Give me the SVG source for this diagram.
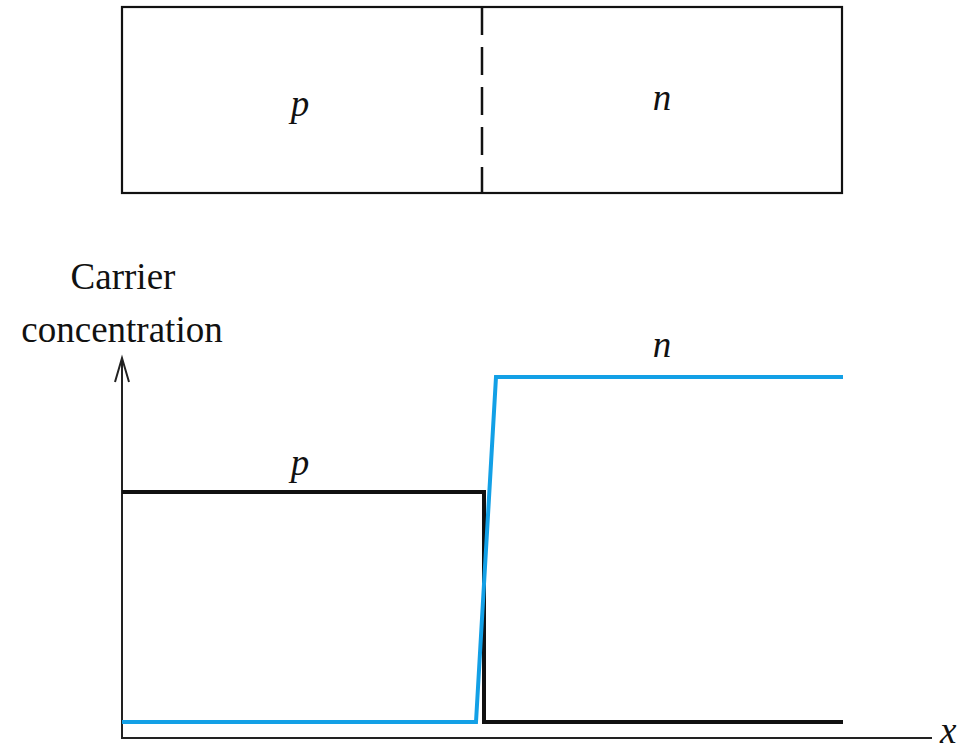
<svg xmlns="http://www.w3.org/2000/svg" width="962" height="754" viewBox="0 0 962 754">
<style>
.lbl{font-family:"Liberation Serif","Times New Roman",serif;font-size:37px;fill:#111}
.it{font-style:italic}
.frame{fill:none;stroke:#111;stroke-width:2.2}
.ax{fill:none;stroke:#222;stroke-width:2}
.blk{fill:none;stroke:#111;stroke-width:4;stroke-linejoin:miter}
.blu{fill:none;stroke:#13a0e6;stroke-width:4;stroke-linejoin:miter}
</style>
<rect width="962" height="754" fill="#fff"/>
<g id="junction">
<rect class="frame" x="122" y="7" width="720" height="186"/>
<line x1="482" y1="7" x2="482" y2="193" stroke="#111" stroke-width="2.5" stroke-dasharray="28 12"/>
<text class="lbl it" x="300" y="116" text-anchor="middle">p</text>
<text class="lbl it" x="662" y="110" text-anchor="middle">n</text>
</g>
<g id="axes">
<line class="ax" x1="122" y1="358" x2="122" y2="739"/>
<polyline class="ax" points="115,382 122,358 129,382"/>
<line class="ax" x1="122" y1="738" x2="932" y2="738"/>
<text class="lbl" x="123" y="289" text-anchor="middle">Carrier</text>
<text class="lbl" x="122" y="342" text-anchor="middle">concentration</text>
<text class="lbl it" x="940" y="743" font-size="32">x</text>
</g>
<g id="connectors">
<polyline class="blk" points="122,492 484,492 484,722 843,722"/>
<polyline class="blu" points="122,722 476,722 496,377 843,377"/>
</g>
<g id="curve-labels">
<text class="lbl it" x="300" y="475" text-anchor="middle">p</text>
<text class="lbl it" x="662" y="357" text-anchor="middle">n</text>
</g>
</svg>
